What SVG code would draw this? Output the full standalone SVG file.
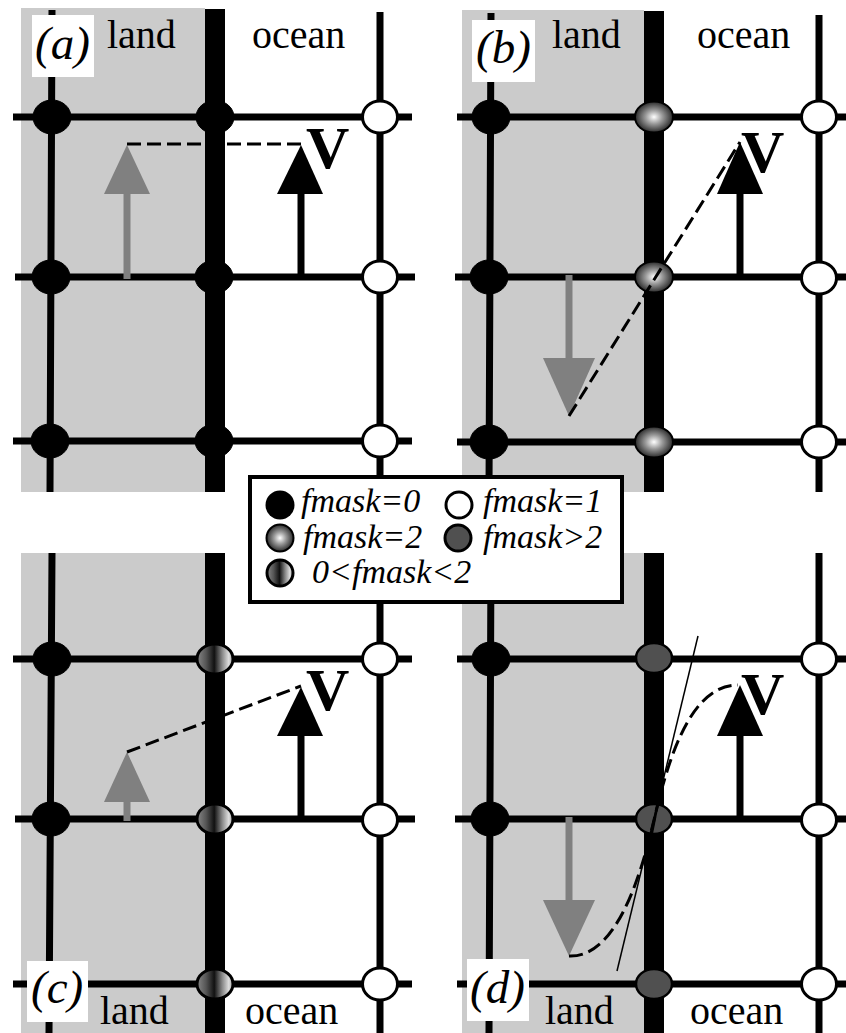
<svg xmlns="http://www.w3.org/2000/svg" width="846" height="1033" viewBox="0 0 846 1033">
<style>
.land{fill:#cbcbcb}
.bar{fill:#000}
.g{stroke:#000;stroke-width:7;fill:none}
.k{fill:#000;stroke:#000;stroke-width:1}
.w{fill:#fff;stroke:#000;stroke-width:3}
.r{fill:url(#rad);stroke:#000;stroke-width:2}
.s{fill:url(#str);stroke:#000;stroke-width:3}
.d{fill:#505050;stroke:#000;stroke-width:2.5}
.ash{stroke:#000;stroke-width:7;fill:none}
.gsh{stroke:#808080;stroke-width:7;fill:none}
.ahd{fill:#000}
.ghd{fill:#808080}
.dash{stroke:#000;stroke-width:3;stroke-dasharray:14 6;fill:none}
.thin{stroke:#000;stroke-width:1.5;fill:none}
.t{font-family:"Liberation Serif","Times New Roman",serif;font-size:40px;fill:#000}
.p{font-family:"Liberation Serif","Times New Roman",serif;font-size:47px;font-style:italic;fill:#000}
.v{font-family:"Liberation Serif","Times New Roman",serif;font-size:60px;font-weight:bold;fill:#000;stroke:#fff;stroke-width:2px;paint-order:stroke}
.m{font-family:"Liberation Serif","Times New Roman",serif;font-size:34px;font-style:italic;fill:#000}
.lb{fill:#fff}
</style>
<defs>
<radialGradient id="rad"><stop offset="0" stop-color="#fff"/><stop offset=".45" stop-color="#999"/><stop offset="1" stop-color="#2a2a2a"/></radialGradient>
<linearGradient id="str"><stop offset="0" stop-color="#888"/><stop offset=".25" stop-color="#555"/><stop offset=".48" stop-color="#111"/><stop offset=".7" stop-color="#888"/><stop offset=".88" stop-color="#ddd"/><stop offset="1" stop-color="#aaa"/></linearGradient>
</defs>
<rect width="846" height="1033" fill="#fff"/>

<g id="backgrounds">
<rect class="land" x="21" y="8" width="184" height="484"/>
<rect class="land" x="462" y="10" width="182" height="482"/>
<rect class="land" x="21" y="553" width="184" height="480"/>
<rect class="land" x="462" y="553" width="182" height="480"/>
<rect class="bar" x="205" y="9" width="20" height="483"/>
<rect class="bar" x="644" y="11" width="20" height="481"/>
<rect class="bar" x="205" y="553" width="20" height="480"/>
<rect class="bar" x="644" y="553" width="20" height="480"/>
</g>

<g id="connectors">
<path class="g" d="M52 10L50 492M380 12V492M13 117H412M15 277H415M13 441H412"/>
<path class="g" d="M491 13L489 492M819 15V492M457 117H846M455 277H846M457 442H846"/>
<path class="g" d="M52 553L49 1033M380 553V1033M13 659H412M15 819H415M13 984H412"/>
<path class="g" d="M491 553L489 1033M819 553V1033M457 659H846M455 819H846M457 984H846"/>

<path class="gsh" d="M127 279V190"/><path class="ghd" d="M127 145L150 194H104Z"/>
<path class="ash" d="M301 277V190"/><path class="ahd" d="M301 145L323 194H277Z"/>

<path class="gsh" d="M569 275V362"/><path class="ghd" d="M569 416L595 358H543Z"/>
<path class="ash" d="M740 277V190"/><path class="ahd" d="M740 142L763 194H717Z"/>

<path class="gsh" d="M127 821V798"/><path class="ghd" d="M127 752L150 802H104Z"/>
<path class="ash" d="M301 819V732"/><path class="ahd" d="M301 687L323 736H277Z"/>

<path class="gsh" d="M569 817V904"/><path class="ghd" d="M569 956L595 900H543Z"/>
<path class="ash" d="M740 819V732"/><path class="ahd" d="M740 685L763 736H717Z"/>
</g>

<g id="nodes-a">
<g id="a1"><ellipse class="k" cx="52" cy="117" rx="19" ry="17"/></g>
<g id="a2"><ellipse class="k" cx="215" cy="117" rx="19" ry="16.5"/></g>
<g id="a3"><ellipse class="w" cx="380" cy="117" rx="17.5" ry="16"/></g>
<g id="a4"><ellipse class="k" cx="51" cy="277" rx="19" ry="17"/></g>
<g id="a5"><ellipse class="k" cx="214" cy="277" rx="19" ry="16.5"/></g>
<g id="a6"><ellipse class="w" cx="380" cy="277" rx="17.5" ry="16"/></g>
<g id="a7"><ellipse class="k" cx="50" cy="441" rx="19" ry="17"/></g>
<g id="a8"><ellipse class="k" cx="214" cy="441" rx="19" ry="16.5"/></g>
<g id="a9"><ellipse class="w" cx="380" cy="441" rx="17.5" ry="16"/></g>
</g>
<g id="nodes-b">
<g id="b1"><ellipse class="k" cx="491" cy="117" rx="19" ry="17"/></g>
<g id="b2"><ellipse class="r" cx="654" cy="117" rx="19" ry="15.5"/></g>
<g id="b3"><ellipse class="w" cx="819" cy="117" rx="17.5" ry="16"/></g>
<g id="b4"><ellipse class="k" cx="489" cy="277" rx="19" ry="17"/></g>
<g id="b5"><ellipse class="r" cx="654" cy="277" rx="19" ry="15.5"/></g>
<g id="b6"><ellipse class="w" cx="819" cy="278" rx="17.5" ry="16"/></g>
<g id="b7"><ellipse class="k" cx="489" cy="442" rx="19" ry="17"/></g>
<g id="b8"><ellipse class="r" cx="654" cy="442" rx="19" ry="15.5"/></g>
<g id="b9"><ellipse class="w" cx="819" cy="442" rx="17.5" ry="16"/></g>
</g>
<g id="nodes-c">
<g id="c1"><ellipse class="k" cx="52" cy="659" rx="19" ry="17"/></g>
<g id="c2"><ellipse class="s" cx="215" cy="659" rx="18" ry="15"/></g>
<g id="c3"><ellipse class="w" cx="380" cy="659" rx="17.5" ry="16"/></g>
<g id="c4"><ellipse class="k" cx="51" cy="819" rx="19" ry="17"/></g>
<g id="c5"><ellipse class="s" cx="215" cy="819" rx="18" ry="15"/></g>
<g id="c6"><ellipse class="w" cx="380" cy="820" rx="17.5" ry="16"/></g>
<g id="c7"><ellipse class="s" cx="215" cy="984" rx="18" ry="15"/></g>
<g id="c8"><ellipse class="w" cx="380" cy="984" rx="17.5" ry="16"/></g>
</g>
<g id="nodes-d">
<g id="d1"><ellipse class="k" cx="491" cy="659" rx="19" ry="17"/></g>
<g id="d2"><ellipse class="d" cx="654" cy="658" rx="18" ry="15"/></g>
<g id="d3"><ellipse class="w" cx="819" cy="659" rx="17.5" ry="16"/></g>
<g id="d4"><ellipse class="k" cx="490" cy="819" rx="19" ry="17"/></g>
<g id="d5"><ellipse class="d" cx="654" cy="819" rx="18" ry="15"/></g>
<g id="d6"><ellipse class="w" cx="819" cy="820" rx="17.5" ry="16"/></g>
<g id="d7"><ellipse class="d" cx="654" cy="984" rx="18" ry="15"/></g>
<g id="d8"><ellipse class="w" cx="819" cy="984" rx="17.5" ry="16"/></g>
</g>

<g id="guides">
<path class="dash" d="M127 144H301"/>
<path class="dash" d="M569 416L740 142"/>
<path class="dash" d="M127 752L301 686"/>
<path class="dash" d="M569 956C615 958 640 880 654 820C668 760 690 685 738 685"/>
<path class="thin" d="M617 971L698 636"/>
<path d="M657.500 805L651.500 835" stroke="#000" stroke-width="2.500" fill="none"/>
</g>

<g id="labels">
<rect class="lb" x="32" y="15" width="62" height="62"/><text class="p" x="35" y="59">(a)</text>
<rect class="lb" x="472" y="20" width="63" height="62"/><text class="p" x="476" y="63">(b)</text>
<rect class="lb" x="27" y="961" width="61" height="61"/><text class="p" x="31" y="1003">(c)</text>
<rect class="lb" x="467" y="959" width="62" height="62"/><text class="p" x="470" y="1003">(d)</text>
<text class="t" x="107" y="48">land</text><text class="t" x="252" y="48">ocean</text>
<text class="t" x="552" y="48">land</text><text class="t" x="697" y="48">ocean</text>
<text class="t" x="100" y="1024">land</text><text class="t" x="245" y="1024">ocean</text>
<text class="t" x="545" y="1024">land</text><text class="t" x="690" y="1024">ocean</text>
<text class="v" x="306" y="168">V</text>
<text class="v" x="741" y="172">V</text>
<text class="v" x="306" y="710">V</text>
<text class="v" x="741" y="714">V</text>
</g>

<g id="legend">
<rect x="250" y="477" width="372" height="125" fill="#fff" stroke="#000" stroke-width="4"/>
<g id="key0"><circle cx="280" cy="505" r="14.500" fill="#000"/><text class="m" x="301" y="512">fmask=0</text></g>
<g id="key1"><circle cx="459" cy="505" r="13" fill="#fff" stroke="#000" stroke-width="3"/><text class="m" x="483" y="512">fmask=1</text></g>
<g id="key2"><ellipse cx="280" cy="538" rx="13.500" ry="13.500" fill="url(#rad)" stroke="#000" stroke-width="2"/><text class="m" x="303" y="548">fmask=2</text></g>
<g id="key3"><circle cx="458" cy="538" r="13" fill="#505050" stroke="#000" stroke-width="3"/><text class="m" x="483" y="548">fmask&gt;2</text></g>
<g id="key4"><circle cx="280" cy="573" r="13" fill="url(#str)" stroke="#000" stroke-width="3"/><text class="m" x="312" y="583">0&lt;fmask&lt;2</text></g>
</g>
</svg>
